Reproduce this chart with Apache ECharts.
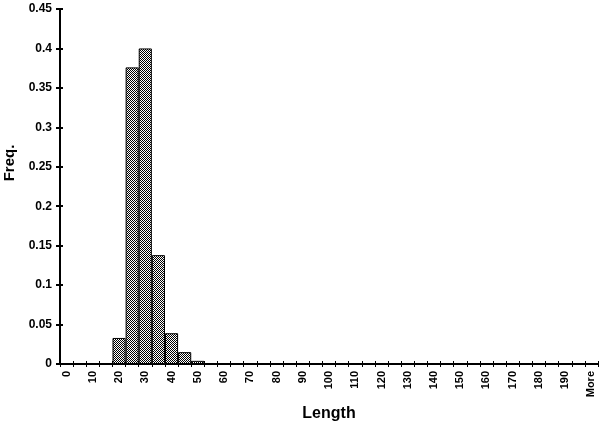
<!DOCTYPE html>
<html><head><meta charset="utf-8">
<script src="https://cdn.jsdelivr.net/npm/echarts@6/dist/echarts.min.js"></script>
<style>html,body{margin:0;padding:0;background:#fff;overflow:hidden}#c{width:599px;height:426px}</style>
</head><body><div id="c"></div>
<script>
var categories = [];
for (var b = 0; b <= 195; b += 5) categories.push(String(b));
categories.push('More');
var freq = [0, 0, 0, 0.001, 0.033, 0.376, 0.400, 0.138, 0.039, 0.015, 0.004,
  0, 0, 0, 0, 0, 0, 0, 0, 0, 0, 0, 0, 0, 0, 0, 0, 0, 0, 0, 0, 0, 0, 0, 0, 0, 0, 0, 0, 0, 0];
var yTicks = [0, 0.05, 0.1, 0.15, 0.2, 0.25, 0.3, 0.35, 0.4, 0.45];

var pc = document.createElement('canvas');
pc.width = 2; pc.height = 2;
var px = pc.getContext('2d');
px.fillStyle = '#fff'; px.fillRect(0, 0, 2, 2);
px.fillStyle = '#000'; px.fillRect(0, 0, 1, 1); px.fillRect(1, 1, 1, 1);

var font = 'Liberation Sans';
var chart = echarts.init(document.getElementById('c'));
chart.setOption({
  animation: false,
  grid: {left: 60, right: 1, top: 9, bottom: 62, containLabel: false, outerBoundsMode: 'none'},
  graphic: [{
    type: 'text', x: 10, y: 163, rotation: Math.PI / 2,
    style: {text: 'Freq.', font: 'bold 15px ' + font, fill: '#000', align: 'center', verticalAlign: 'middle'}
  }],
  xAxis: [{
    type: 'category', data: categories, boundaryGap: true,
    name: 'Length', nameLocation: 'middle', nameGap: 40,
    nameTextStyle: {fontFamily: font, fontWeight: 'bold', fontSize: 16, color: '#000'},
    axisLine: {lineStyle: {color: '#000', width: 2}},
    axisTick: {show: true, interval: 0, length: 3, lineStyle: {color: '#000'}},
    axisLabel: {interval: 1, rotate: 90, fontFamily: font, fontWeight: 'bold', fontSize: 11, color: '#000', margin: 7},
    splitLine: {show: false}
  }, {
    type: 'category', data: categories, boundaryGap: true, position: 'bottom',
    axisLine: {show: false}, axisLabel: {show: false},
    axisTick: {show: true, inside: true, interval: 0, length: 3, lineStyle: {color: '#000'}}
  }],
  yAxis: [{
    type: 'value', min: 0, max: 0.45, interval: 0.05,
    axisLine: {show: true, lineStyle: {color: '#000', width: 2}},
    axisTick: {show: true, length: 4, lineStyle: {color: '#000', width: 2}},
    axisLabel: {fontFamily: font, fontWeight: 'bold', fontSize: 12, color: '#000', margin: 8,
      formatter: function (v) { var t = yTicks.filter(function (x) { return Math.abs(x - v) < 1e-9; }); return t.length ? String(t[0]) : ''; }},
    splitLine: {show: false}
  }, {
    type: 'value', min: 0, max: 0.45, interval: 0.05, position: 'left',
    axisLine: {show: false}, axisLabel: {show: false}, splitLine: {show: false},
    axisTick: {show: true, inside: true, length: 3, lineStyle: {color: '#000', width: 2}}
  }],
  series: [{
    type: 'bar', data: freq, barCategoryGap: '0%',
    itemStyle: {color: {image: pc, repeat: 'repeat'}, borderColor: '#000', borderWidth: 1}
  }]
});
</script></body></html>
